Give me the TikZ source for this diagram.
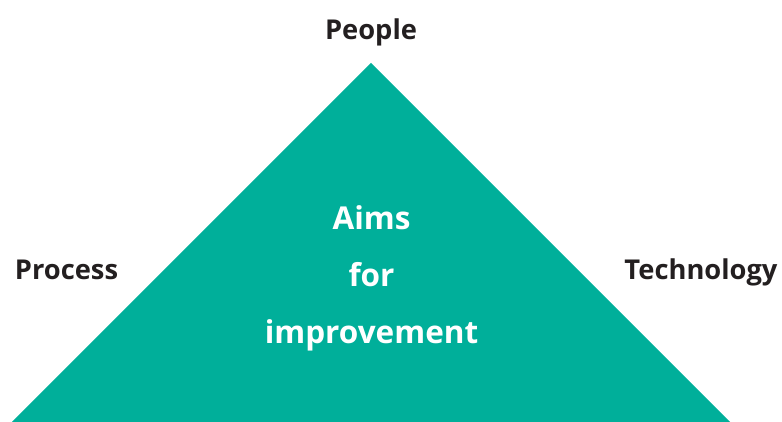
\documentclass[tikz,border=0pt]{standalone}
\usepackage{fontspec}
\setmainfont{Open Sans}
\usepackage{tikz}

\definecolor{aimteal}{HTML}{00AF9A}
\definecolor{inkdark}{HTML}{231F20}

\begin{document}
\begin{tikzpicture}[x=1pt, y=1pt,
	corner/.style={text=inkdark, inner sep=0pt, anchor=base, font=\fontsize{27.3}{32}\selectfont\bfseries},
	aimtext/.style={text=white, inner sep=0pt, align=center, font=\fontsize{31.5}{57}\selectfont\bfseries}]
	\useasboundingbox (0,0) rectangle (782,422);
	% the triangle
	\coordinate (apex) at (371,359);
	\coordinate (baseleft) at (12,0);
	\coordinate (baseright) at (730,0);
	\fill[aimteal] (baseleft) -- (apex) -- (baseright) -- cycle;
	% the three corners
	\node[corner] (people) at (371,382.7) {People};
	\node[corner] (process) at (66.5,142) {Process};
	\node[corner] (technology) at (701,142) {Technology};
	% text in the middle
	\node[aimtext] (aims) at (371.5,143.5) {Aims\\for\\improvement};
\end{tikzpicture}
\end{document}
